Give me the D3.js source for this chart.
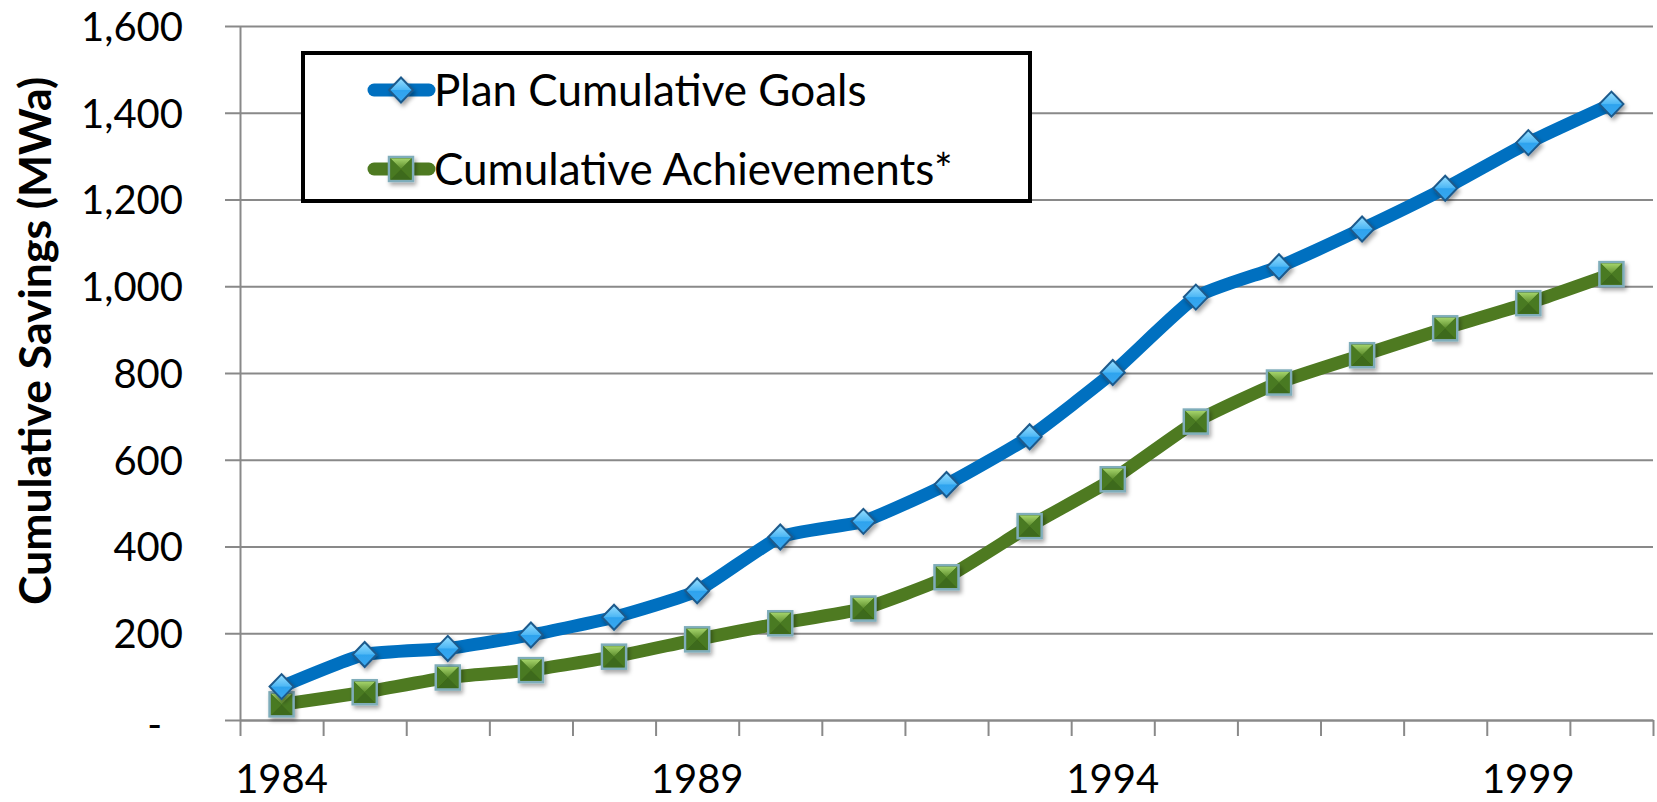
<!DOCTYPE html>
<html>
<head>
<meta charset="utf-8">
<script src="https://cdn.jsdelivr.net/npm/d3@7"></script>
<style>
  body { margin: 0; background: #fff; }
  svg { display: block; font-family: Lato, "Open Sans", sans-serif; }
  svg text { font-family: Lato, "Open Sans", sans-serif; }
</style>
</head>
<body>
<svg id="chart" width="1657" height="802"></svg>
<script>
const years = ["1984", "1985", "1986", "1987", "1988", "1989", "1990", "1991", "1992",
  "1993", "1994", "1995", "1996", "1997", "1998", "1999", "2000"];
const planGoals = [77, 151, 165, 196, 237, 298, 422, 458, 543, 653, 801, 975, 1045, 1132, 1226, 1331, 1420];
const achievements = [36, 64, 98, 115, 146, 186, 223, 257, 329, 447, 555, 688, 778, 841, 903, 961, 1028];
const yTicks = [0, 200, 400, 600, 800, 1000, 1200, 1400, 1600];
const xLabels = ["1984", "1989", "1994", "1999"];
const seriesNames = ["Plan Cumulative Goals", "Cumulative Achievements*"];

const svg = d3.select("#chart");
const plotL = 240, plotR = 1653, plotT = 26, plotB = 720;

const x = d3.scaleBand().domain(years).range([plotL, plotR]).padding(0);
const xEdge = d3.scaleLinear().domain([0, years.length]).range([plotL, plotR]);
const y = d3.scaleLinear().domain([0, 1600]).range([plotB, plotT]);
const cx = d => x(d) + x.bandwidth() / 2;

// defs: gradients + shadow
const defs = svg.append("defs");
const f = defs.append("filter").attr("id", "shadow")
    .attr("x", "-50%").attr("y", "-50%").attr("width", "200%").attr("height", "200%");
f.append("feDropShadow").attr("dx", 2).attr("dy", 3).attr("stdDeviation", 2)
    .attr("flood-color", "#000").attr("flood-opacity", 0.35);

const gBlue = defs.append("linearGradient").attr("id", "gBlue")
    .attr("x1", 0).attr("y1", 0).attr("x2", 0).attr("y2", 1);
gBlue.append("stop").attr("offset", "0%").attr("stop-color", "#9be0ff");
gBlue.append("stop").attr("offset", "48%").attr("stop-color", "#4fb8f5");
gBlue.append("stop").attr("offset", "52%").attr("stop-color", "#2ea3ee");
gBlue.append("stop").attr("offset", "100%").attr("stop-color", "#3aa8f0");

const gGreenTop = defs.append("linearGradient").attr("id", "gGreenTop")
    .attr("x1", 0).attr("y1", 0).attr("x2", 0).attr("y2", 1);
gGreenTop.append("stop").attr("offset", "0%").attr("stop-color", "#a4d36a");
gGreenTop.append("stop").attr("offset", "100%").attr("stop-color", "#5b8c2c");

// y axis + gridlines
const yAxis = svg.append("g")
    .attr("transform", `translate(${plotL},0)`)
    .call(d3.axisLeft(y).tickValues(yTicks).tickSizeInner(15).tickSizeOuter(0).tickPadding(42)
      .tickFormat(d => d === 0 ? "-" : d3.format(",")(d)));
yAxis.attr("font-family", null).attr("font-size", null);
yAxis.select(".domain").attr("stroke", "#898989").attr("stroke-width", 2);
yAxis.selectAll(".tick line").attr("x1", plotR - plotL).attr("stroke", "#898989").attr("stroke-width", 2);
yAxis.selectAll(".tick text").attr("font-size", 40).attr("fill", "#000").attr("dy", "0.36em");
yAxis.selectAll(".tick").filter(d => d === 0).select("text").attr("dx", -21).attr("dy", "0.45em");

// x axis: ticks at category edges, labels every 5 years
const xAxis = svg.append("g")
    .attr("transform", `translate(0,${plotB})`)
    .call(d3.axisBottom(xEdge).tickValues(d3.range(years.length + 1)).tickSizeInner(16).tickSizeOuter(0).tickFormat(""));
xAxis.select(".domain").attr("stroke", "#898989").attr("stroke-width", 2);
xAxis.selectAll(".tick line").attr("stroke", "#898989").attr("stroke-width", 2);

const xLab = svg.append("g")
    .attr("transform", `translate(0,${plotB})`)
    .call(d3.axisBottom(x).tickValues(xLabels).tickSize(0).tickPadding(45));
xLab.attr("font-family", null).attr("font-size", null);
xLab.select(".domain").remove();
xLab.selectAll(".tick text").attr("font-size", 40).attr("fill", "#000");

// y title
svg.append("text")
    .attr("transform", "translate(51,341) rotate(-90)")
    .attr("text-anchor", "middle")
    .attr("font-size", 44.5)
    .attr("font-weight", "bold")
    .text("Cumulative Savings (MWa)");

// lines
const line = d3.line().x(d => cx(d.year)).y(d => y(d.value)).curve(d3.curveCardinal.tension(0.5));
const planData = years.map((yr, i) => ({ year: yr, value: planGoals[i] }));
const achData = years.map((yr, i) => ({ year: yr, value: achievements[i] }));

svg.append("path").datum(planData).attr("d", line)
    .attr("fill", "none").attr("stroke", "#0070c0").attr("stroke-width", 13).attr("stroke-linejoin", "round");
svg.append("path").datum(achData).attr("d", line)
    .attr("fill", "none").attr("stroke", "#4e7a21").attr("stroke-width", 13).attr("stroke-linejoin", "round");

// marker drawers
function diamond(g) {
  g.attr("filter", "url(#shadow)");
  g.append("path").attr("d", "M0,-12.5L12,0L0,12.5L-12,0Z")
      .attr("fill", "url(#gBlue)").attr("stroke", "#1d5a8c").attr("stroke-width", 2);
}
function square(g) {
  const s = 12;
  g.attr("filter", "url(#shadow)");
  g.append("rect").attr("x", -s).attr("y", -s).attr("width", 2 * s).attr("height", 2 * s)
      .attr("fill", "#477520").attr("stroke", "#7fadba").attr("stroke-width", 2.5);
  const i = s - 1.5;
  g.append("path").attr("d", `M${-i},${-i}L${i},${-i}L0,0Z`).attr("fill", "url(#gGreenTop)");
  g.append("path").attr("d", `M${-i},${i}L${i},${i}L0,0Z`).attr("fill", "#3e6a1a");
  g.append("path").attr("d", `M${-i},${-i}L${-i},${i}L0,0Z`).attr("fill", "#4a7a22");
  g.append("path").attr("d", `M${i},${-i}L${i},${i}L0,0Z`).attr("fill", "#4a7a22");
}

svg.append("g").selectAll("g").data(achData).join("g")
    .attr("transform", d => `translate(${cx(d.year)},${y(d.value)})`)
    .each(function() { square(d3.select(this)); });
svg.append("g").selectAll("g").data(planData).join("g")
    .attr("transform", d => `translate(${cx(d.year)},${y(d.value)})`)
    .each(function() { diamond(d3.select(this)); });

// legend
const lg = svg.append("g");
lg.append("rect").attr("x", 303).attr("y", 53).attr("width", 727).attr("height", 148)
    .attr("fill", "#fff").attr("stroke", "#000").attr("stroke-width", 4);
const legendItems = [
  { name: seriesNames[0], color: "#0070c0", marker: diamond, yy: 90 },
  { name: seriesNames[1], color: "#4e7a21", marker: square, yy: 169 }
];
legendItems.forEach(it => {
  lg.append("line").attr("x1", 374).attr("x2", 429).attr("y1", it.yy).attr("y2", it.yy)
      .attr("stroke", it.color).attr("stroke-width", 13).attr("stroke-linecap", "round");
  const m = lg.append("g").attr("transform", `translate(401,${it.yy})`);
  it.marker(m);
  lg.append("text").attr("x", 434).attr("y", it.yy).attr("dy", "0.36em")
      .attr("font-size", 44).attr("fill", "#000").text(it.name);
});
</script>
</body>
</html>
